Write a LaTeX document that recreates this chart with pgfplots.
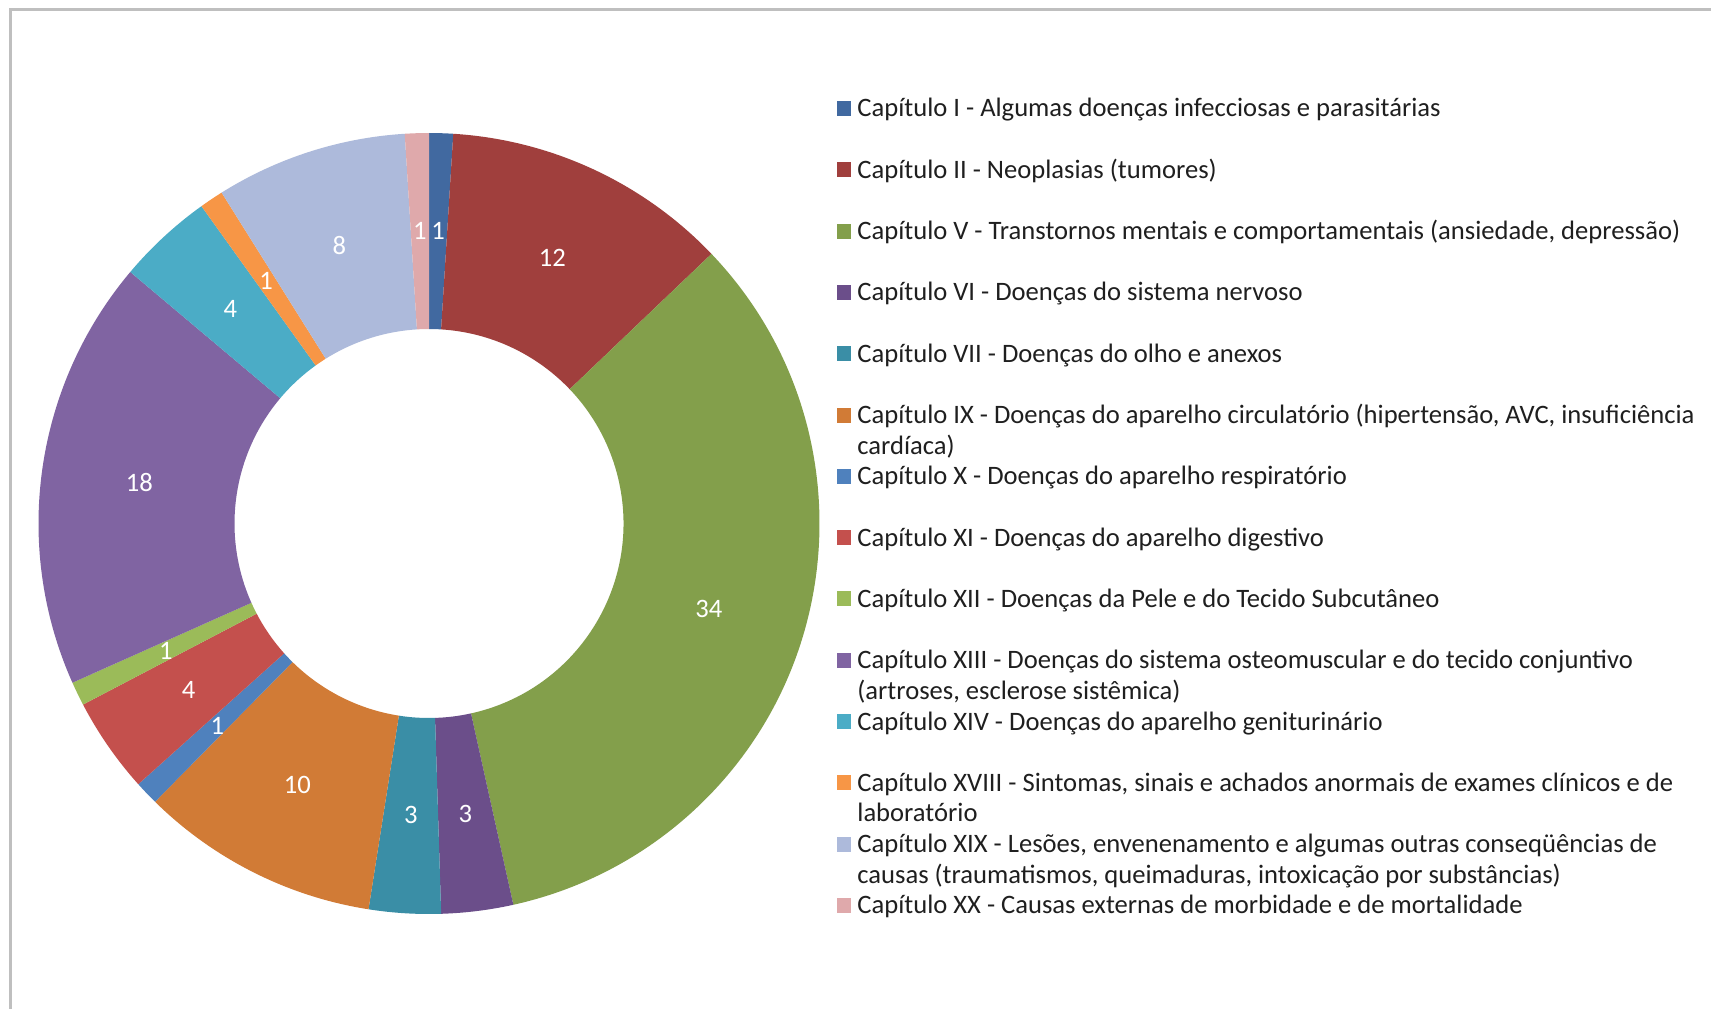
\documentclass[border=0pt]{standalone}
\usepackage{fontspec}
\setmainfont{Carlito}
\usepackage{pgfplots}
\usepackage{pgfplotstable}
\pgfplotsset{compat=1.18}

\definecolor{cI}{HTML}{4169A0}
\definecolor{cII}{HTML}{A03F3D}
\definecolor{cV}{HTML}{839F4B}
\definecolor{cVI}{HTML}{6B4E8A}
\definecolor{cVII}{HTML}{3A8EA6}
\definecolor{cIX}{HTML}{D17B36}
\definecolor{cX}{HTML}{4F81BD}
\definecolor{cXI}{HTML}{C4504D}
\definecolor{cXII}{HTML}{9BBB59}
\definecolor{cXIII}{HTML}{8064A2}
\definecolor{cXIV}{HTML}{4BACC6}
\definecolor{cXVIII}{HTML}{F79646}
\definecolor{cXIX}{HTML}{ADBADB}
\definecolor{cXX}{HTML}{DFA9AB}
\definecolor{frame}{HTML}{BFBFBF}

% capitulos, clockwise from 12 o'clock
\pgfplotstableread{
v  col
1  cI
12 cII
34 cV
3  cVI
3  cVII
10 cIX
1  cX
4  cXI
1  cXII
18 cXIII
4  cXIV
1  cXVIII
8  cXIX
1  cXX
}\data

\newcommand{\lgd}{\fontsize{13.3}{15.25}\selectfont}
\newcommand{\lbl}{\fontsize{13.3}{15}\selectfont}
\def\Ro{195.25pt}
\def\Rw{98pt}   % ring width
\def\Rm{146.25pt}

\begin{document}
% 1 unit = 1 px of the 1711x1009 reference, y up from the bottom
\begin{tikzpicture}[x=0.5pt,y=0.5pt]
\path[use as bounding box, fill=white] (0,0) rectangle (1711,1009);
\draw[line width=1.5pt, frame] (1711,999) -- (10,999) -- (10,0);

\pgfplotstablegetrowsof{\data}
\pgfmathtruncatemacro\nrows{\pgfplotsretval-1}
\def\total{0}
\pgfplotsforeachungrouped \i in {0,...,\nrows}{%
  \pgfplotstablegetelem{\i}{v}\of\data
  \pgfmathsetmacro\total{\total+\pgfplotsretval}%
}
\pgfmathsetmacro\degper{360/\total}

\begin{axis}[
  at={(214.5pt,242.75pt)}, anchor=center,
  scale only axis, width=390.5pt, height=390.5pt,
  xmin=-1, xmax=1, ymin=-1, ymax=1,
  hide axis, clip=false,
]
\def\cum{0}
\pgfplotsforeachungrouped \i in {0,...,\nrows}{%
  \pgfplotstablegetelem{\i}{v}\of\data \let\val\pgfplotsretval
  \pgfplotstablegetelem{\i}{col}\of\data \let\col\pgfplotsretval
  \pgfmathsetmacro\aA{90-\degper*\cum}%
  \pgfmathsetmacro\cum{\cum+\val}%
  \pgfmathsetmacro\aB{90-\degper*\cum}%
  \pgfmathsetmacro\aM{(\aA+\aB)/2}%
  \edef\wedge{%
    \noexpand\fill[\col] (axis cs:0,0) ++(\aA:\Ro)
      arc[start angle=\aA, end angle=\aB, radius=\Ro] -- ++(\aB:-\Rw)
      arc[start angle=\aB, end angle=\aA, radius=\Ro-\Rw] -- cycle;
    \noexpand\path (axis cs:0,0) ++(\aM:\Rm)
      node[text=white, font=\noexpand\lbl, inner sep=0pt] {\val};%
  }%
  \wedge
}
\end{axis}

\foreach \k/\c/\t/\u in {
  0/cI/{Capítulo I - Algumas doenças infecciosas e parasitárias}/{},
  1/cII/{Capítulo II - Neoplasias (tumores)}/{},
  2/cV/{Capítulo V - Transtornos mentais e comportamentais (ansiedade, depressão)}/{},
  3/cVI/{Capítulo VI - Doenças do sistema nervoso}/{},
  4/cVII/{Capítulo VII - Doenças do olho e anexos}/{},
  5/cIX/{Capítulo IX - Doenças do aparelho circulatório (hipertensão, AVC, insuficiência}/{cardíaca)},
  6/cX/{Capítulo X - Doenças do aparelho respiratório}/{},
  7/cXI/{Capítulo XI - Doenças do aparelho digestivo}/{},
  8/cXII/{Capítulo XII - Doenças da Pele e do Tecido Subcutâneo}/{},
  9/cXIII/{Capítulo XIII - Doenças do sistema osteomuscular e do tecido conjuntivo}/{(artroses, esclerose sistêmica)},
  10/cXIV/{Capítulo XIV - Doenças do aparelho geniturinário}/{},
  11/cXVIII/{Capítulo XVIII - Sintomas, sinais e achados anormais de exames clínicos e de}/{laboratório},
  12/cXIX/{Capítulo XIX - Lesões, envenenamento e algumas outras conseqüências de}/{causas (traumatismos, queimaduras, intoxicação por substâncias)},
  13/cXX/{Capítulo XX - Causas externas de morbidade e de mortalidade}/{}%
}{
  \pgfmathsetmacro\yb{1009-117-61.3*\k}
  \fill[\c] (837,\yb+1) rectangle (851,\yb+16);
  \node[anchor=base west, inner sep=0pt, font=\lgd, text=black!88] at (857,\yb) {\t};
  \node[anchor=base west, inner sep=0pt, font=\lgd, text=black!88] at (857,\yb-30.5) {\u};
}
\end{tikzpicture}
\end{document}
